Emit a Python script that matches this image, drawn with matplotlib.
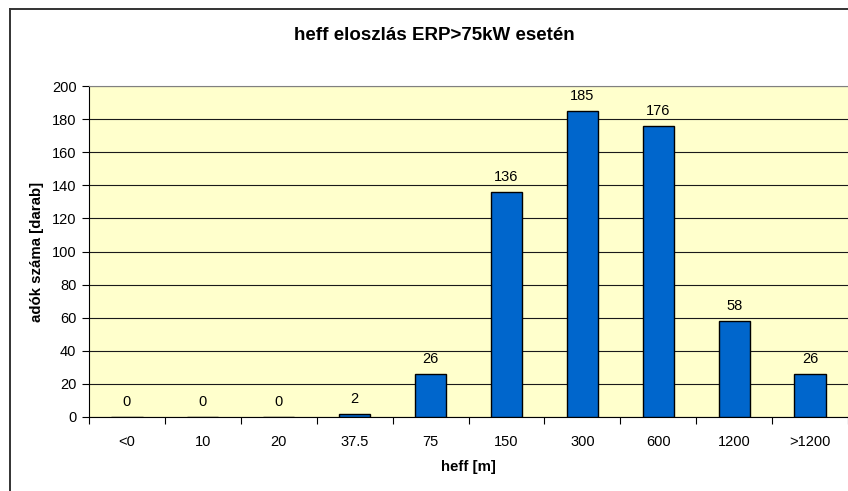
import matplotlib
matplotlib.use("Agg")
import matplotlib.pyplot as plt
from matplotlib.lines import Line2D
import numpy as np

plt.rcParams['font.family'] = ['Liberation Sans', 'DejaVu Sans']

categories = ["<0", "10", "20", "37.5", "75", "150", "300", "600", "1200", ">1200"]
counts = [0, 0, 0, 2, 26, 136, 185, 176, 58, 26]
y_ticks = [0, 20, 40, 60, 80, 100, 120, 140, 160, 180, 200]

W, H = 848, 491
fig = plt.figure(figsize=(W / 100, H / 100), dpi=100)
ax = fig.add_axes([89 / W, 1 - 417 / H, (848 - 89) / W, (417 - 86) / H])
ax.set_facecolor("#FFFFCC")

x = np.arange(len(categories))
ax.bar(x, counts, width=0.41, color="#0066CC", edgecolor="black", linewidth=1.0, zorder=3)

for xi, v in zip(x, counts):
    ax.annotate(str(v), (xi, v), xytext=(0, 8), textcoords="offset points",
                ha="center", va="baseline", fontsize=10.5, zorder=4)

ax.set_xlim(-0.5, len(categories) - 0.5)
ax.set_ylim(0, 200)
ax.set_yticks(y_ticks)
ax.set_yticklabels([str(t) for t in y_ticks], fontsize=10.5)
ax.yaxis.grid(True, color="#1a1a1a", linewidth=0.8, zorder=1)
ax.set_axisbelow(True)

ax.set_xticks(x)
ax.set_xticklabels(categories, fontsize=10.5)
ax.tick_params(axis="x", length=0, pad=13)
ax.set_xticks(np.arange(-0.5, len(categories), 1.0), minor=True)
ax.tick_params(axis="x", which="minor", length=5, width=0.8, direction="out")
ax.tick_params(axis="y", length=5, width=0.8, direction="out", pad=4)

ax.spines["right"].set_visible(False)
ax.spines["top"].set_color("#808080")
ax.spines["left"].set_linewidth(0.8)
ax.spines["bottom"].set_linewidth(0.8)

ax.set_ylabel("adók száma [darab]", fontsize=10.8, fontweight="bold", va="center")
ax.yaxis.set_label_coords((37 - 89) / 759, 0.5)
ax.set_xlabel("heff [m]", fontsize=10.8, fontweight="bold", va="center")
ax.xaxis.set_label_coords((468 - 89) / 759, (417 - 467) / 331)

fig.text(434 / W, 1 - 36 / H, "heff eloszlás ERP>75kW esetén", ha="center", va="center",
         fontsize=13.5, fontweight="bold")

# chart frame
fig.add_artist(Line2D([10 / W, 10 / W], [0, 1 - 9 / H], transform=fig.transFigure,
                      color="#333333", linewidth=1.4))
fig.add_artist(Line2D([10 / W, 1], [1 - 9 / H, 1 - 9 / H], transform=fig.transFigure,
                      color="#333333", linewidth=1.4))

fig.savefig("out.png", dpi=100)
